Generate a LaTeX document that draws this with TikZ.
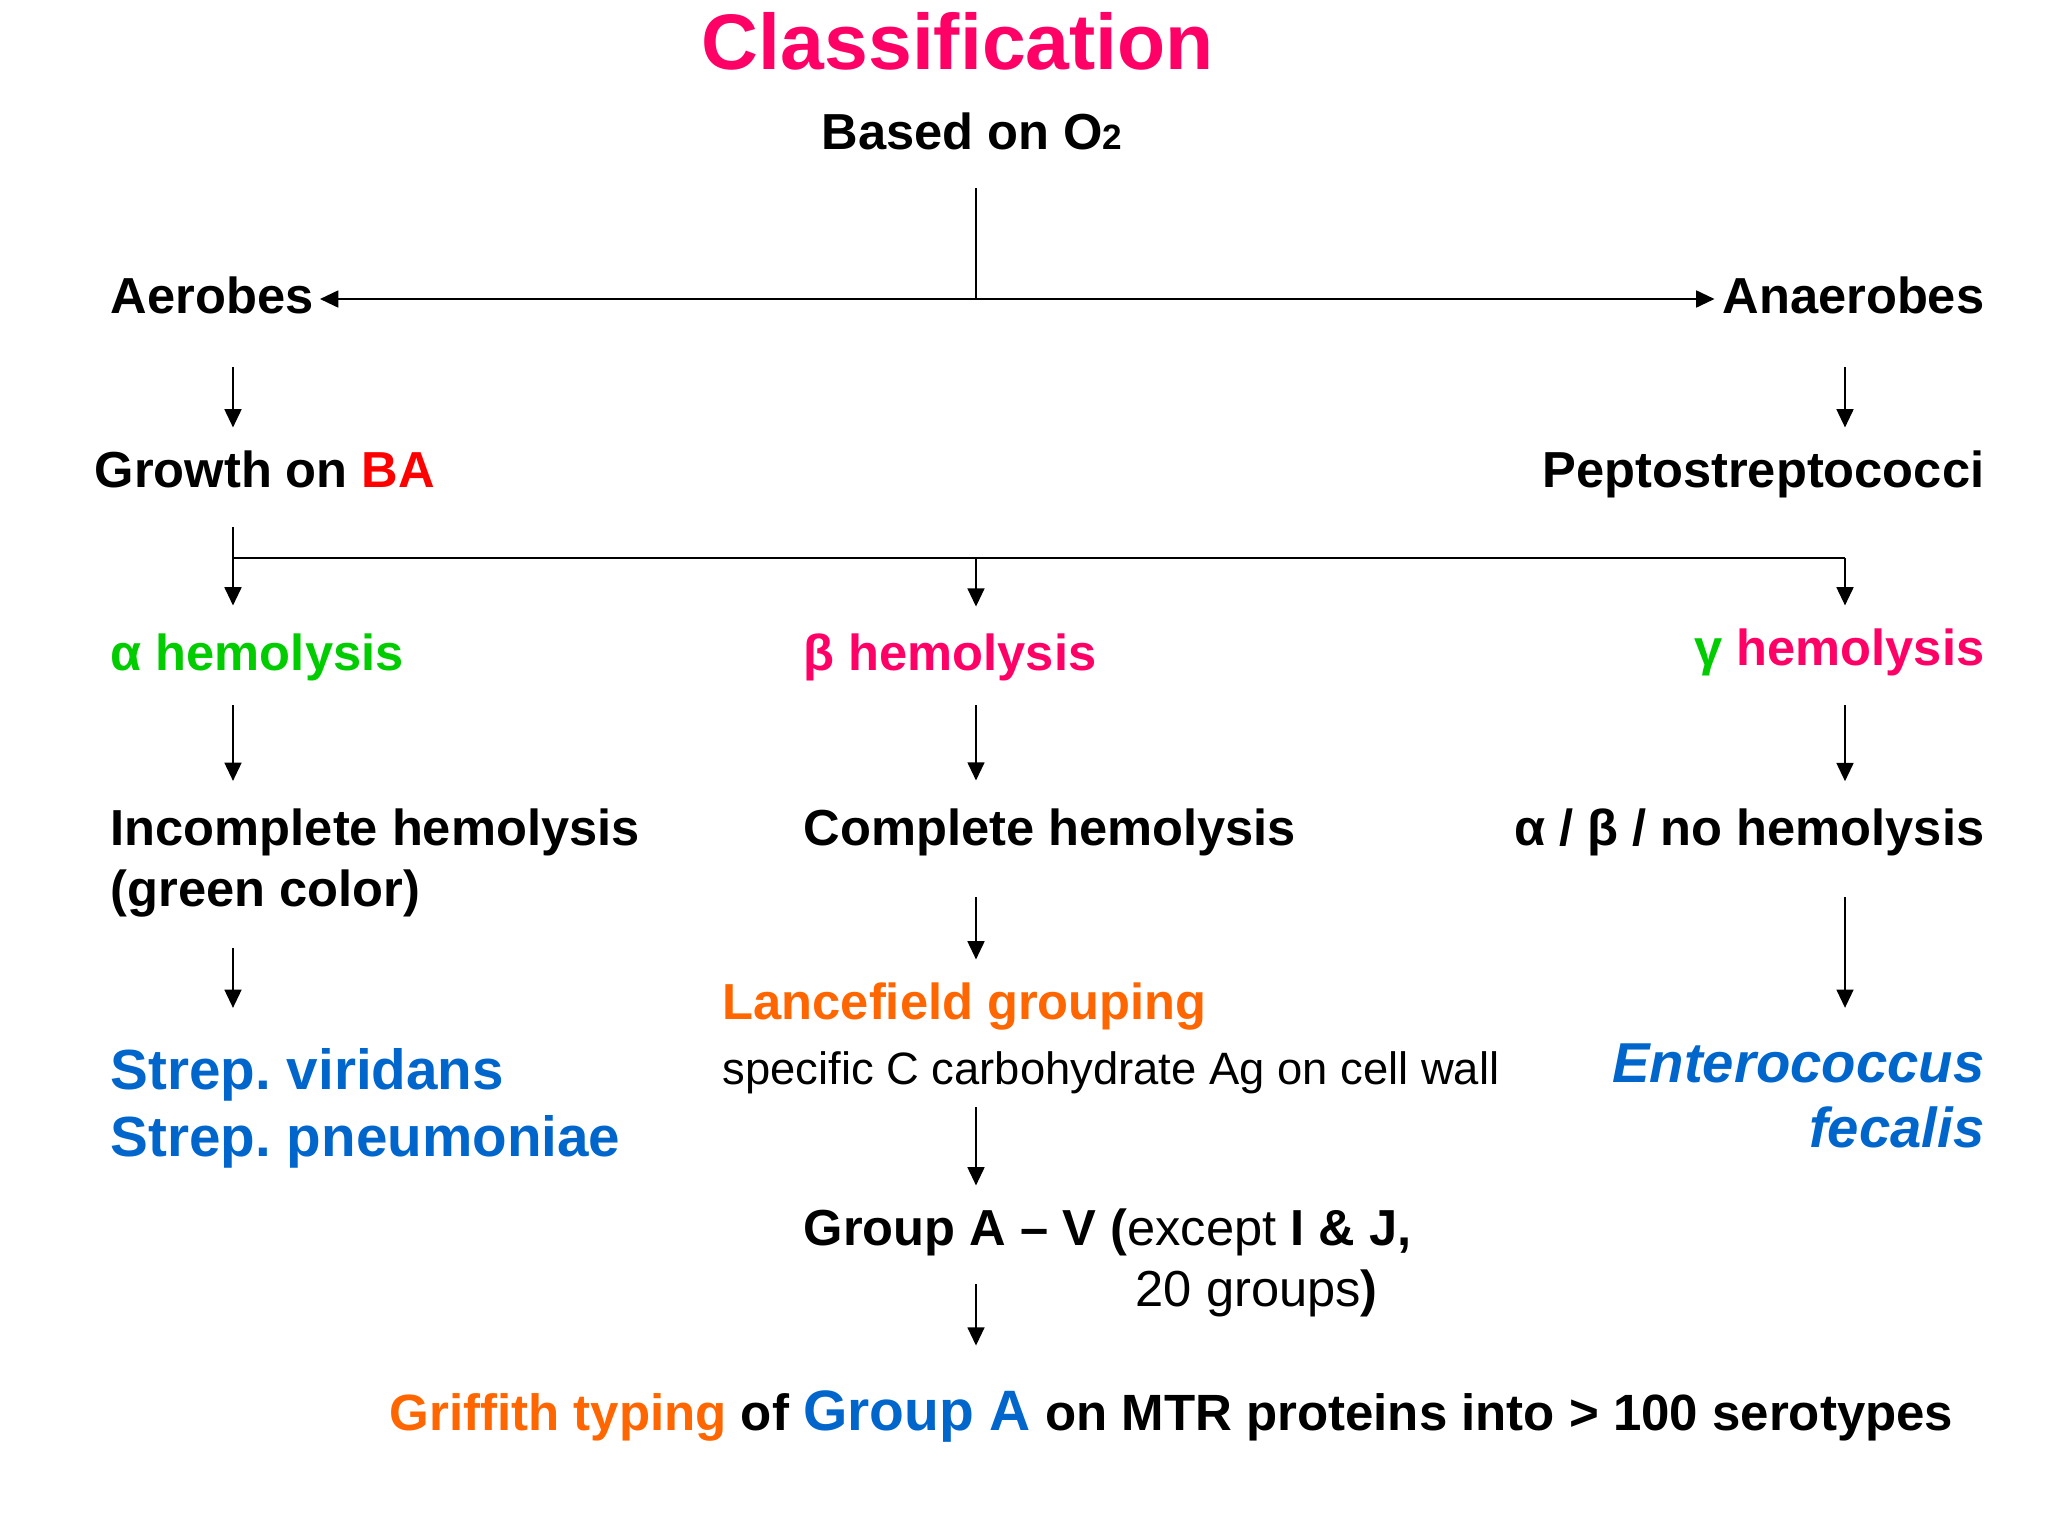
\documentclass[tikz,border=0pt]{standalone}
\usepackage{fontspec}
\setmainfont{Liberation Sans}
\frenchspacing
\usetikzlibrary{arrows.meta}
\definecolor{titlepink}{HTML}{FF0066}
\definecolor{hgreen}{HTML}{00CC00}
\definecolor{bared}{HTML}{FF0000}
\definecolor{lorange}{HTML}{FF6600}
\definecolor{sblue}{HTML}{0066CC}
\tikzstyle{txt} = [inner sep=0pt, font=\bfseries\fontsize{14.4}{17.4}\selectfont]
\tikzstyle{species} = [inner sep=0pt, text=sblue, font=\bfseries\fontsize{16.1}{19}\selectfont]
\tikzstyle{line} = [draw, line width=0.6pt]
\tikzstyle{arrowline} = [draw, line width=0.6pt, ->]

\begin{document}
\begin{tikzpicture}[x=0.01cm, y=0.01cm, >={Triangle[length=5.2pt,width=4.8pt]}]
	\useasboundingbox (0,0) rectangle (2048,-1536);
	% Place nodes
	\node [txt, anchor=base, text=titlepink, font=\bfseries\fontsize{22.4}{26}\selectfont] (title) at (958,-69) {Classification};
	\node [txt, anchor=base] (based) at (972,-149) {Based on O{\fontsize{10}{12}\selectfont 2}};
	\node [txt, anchor=base west] (aerobes) at (110,-313) {Aerobes};
	\node [txt, anchor=base east] (anaerobes) at (1985,-313) {Anaerobes};
	\node [txt, anchor=base west] (growth) at (94,-487) {Growth on \textcolor{bared}{BA}};
	\node [txt, anchor=base east] (pepto) at (1985,-487) {Peptostreptococci};
	\node [txt, anchor=base west, text=hgreen] (alpha) at (110,-670) {α hemolysis};
	\node [txt, anchor=base west, text=titlepink] (beta) at (803,-670) {β hemolysis};
	\node [txt, anchor=base east, text=titlepink] (gamma) at (1985,-665) {\textcolor{hgreen}{γ} hemolysis};
	\node [txt, anchor=north west, align=left] (incomplete) at (110,-808) {Incomplete hemolysis\\(green color)};
	\node [txt, anchor=base west] (complete) at (803,-845) {Complete hemolysis};
	\node [txt, anchor=base east] (nohemo) at (1985,-845) {α / β / no hemolysis};
	\node [txt, anchor=base west, text=lorange] (lancefield) at (722,-1019) {Lancefield grouping};
	\node [txt, anchor=base west, font=\fontsize{12.9}{15}\selectfont] (antigen) at (722,-1084) {specific C carbohydrate Ag on cell wall};
	\node [species, anchor=north west, align=left] (strep) at (110,-1048) {Strep. viridans\\Strep. pneumoniae};
	\node [species, anchor=north east, align=right, font=\bfseries\itshape\fontsize{16}{18.5}\selectfont] (entero) at (1985,-1043) {Enterococcus\\fecalis};
	\node [txt, anchor=base west] (groupav) at (803,-1245) {Group A – V ({\mdseries except }I \& J,};
	\node [txt, anchor=base west, font=\fontsize{14.4}{17.4}\selectfont] (groups) at (1135,-1306) {20 groups\textbf{)}};
	\node [txt, anchor=base west, font=\bfseries\fontsize{14.5}{17.4}\selectfont] (griffith) at (389,-1430) {\textcolor{lorange}{Griffith typing} of \textcolor{sblue}{\fontsize{16.2}{19}\selectfont Group A} on MTR proteins into > 100 serotypes};
	% Columns and junctions
	\coordinate (colL) at (233,0);
	\coordinate (colM) at (976,0);
	\coordinate (colR) at (1845,0);
	\coordinate (jO2) at (976,-299);
	\coordinate (jBr) at (233,-558);
	% Draw edges
	\path [line, shorten <=10.8pt] (based.south -| jO2) -- (jO2);
	\path [arrowline, <->, shorten <=1.7pt, shorten >=2.1pt] (aerobes.east |- jO2) -- (anaerobes.west |- jO2);
	\path [arrowline, shorten <=15.1pt, shorten >=6.3pt] (aerobes.south -| colL) -- (growth.north -| colL);
	\path [arrowline, shorten <=15.1pt, shorten >=6.3pt] (anaerobes.south -| colR) -- (pepto.north -| colR);
	\path [arrowline, shorten <=11.1pt, shorten >=7.7pt] (growth.south -| colL) -- (alpha.north -| colL);
	\path [line] (jBr) -- (jBr -| colR);
	\path [arrowline, shorten >=7.4pt] (jBr -| colM) -- (beta.north -| colM);
	\path [arrowline, shorten >=6.3pt] (jBr -| colR) -- (gamma.north -| colR);
	\path [arrowline, shorten <=6.8pt, shorten >=7.7pt] (alpha.south -| colL) -- (incomplete.north -| colL);
	\path [arrowline, shorten <=6.8pt, shorten >=7.7pt] (beta.south -| colM) -- (complete.north -| colM);
	\path [arrowline, shorten <=8.3pt, shorten >=7.5pt] (gamma.south -| colR) -- (nohemo.north -| colR);
	\path [arrowline, shorten <=8.5pt, shorten >=11.4pt] (incomplete.south -| colL) -- (strep.north -| colL);
	\path [arrowline, shorten <=11.7pt, shorten >=6.3pt] (complete.south -| colM) -- (lancefield.north -| colM);
	\path [arrowline, shorten <=11.7pt, shorten >=10pt] (nohemo.south -| colR) -- (entero.north -| colR);
	\path [arrowline, shorten <=3.7pt, shorten >=6.3pt] (antigen.south -| colM) -- (groupav.north -| colM);
	\path [arrowline, shorten <=8pt, shorten >=12.5pt] (groupav.south -| colM) -- (griffith.north -| colM);
\end{tikzpicture}
\end{document}
